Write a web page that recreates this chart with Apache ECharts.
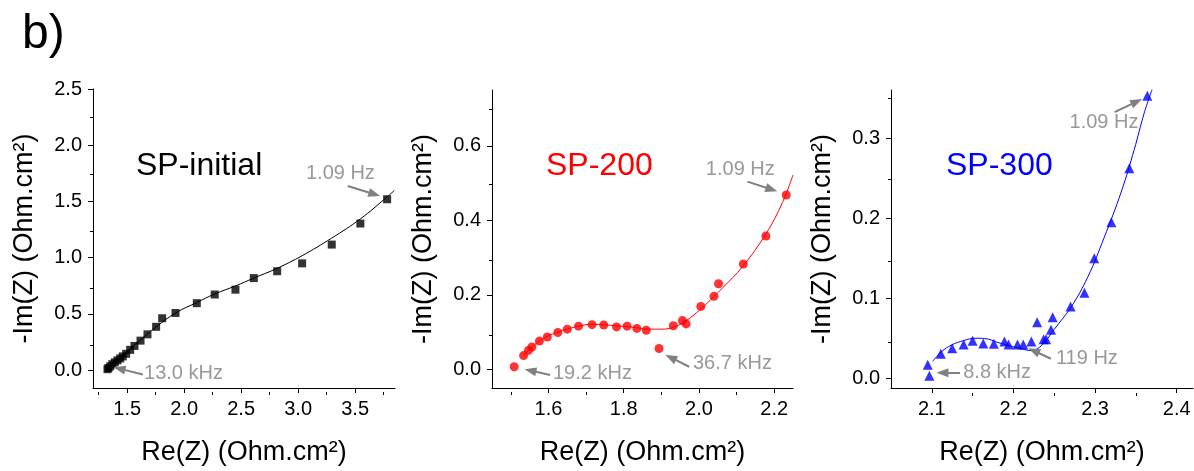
<!DOCTYPE html>
<html>
<head>
<meta charset="utf-8">
<script src="https://cdn.jsdelivr.net/npm/echarts@6/dist/echarts.min.js"></script>
<style>
html,body{margin:0;padding:0;background:#fff;}
#chart{width:1194px;height:471px;}
</style>
</head>
<body>
<div id="chart"></div>
<script>
// ---------- Panel 1: SP-initial ----------
const p1Re = [1.327,1.336,1.351,1.369,1.391,1.415,1.439,1.461,1.491,1.526,1.564,1.617,1.678,1.754,1.807,1.924,2.111,2.268,2.450,2.611,2.816,3.035,3.295,3.546,3.781];
const p1Im = [0.009,0.020,0.035,0.053,0.070,0.088,0.105,0.123,0.146,0.181,0.216,0.263,0.319,0.386,0.462,0.509,0.596,0.673,0.716,0.819,0.880,0.950,1.117,1.304,1.520];
const p1FitRe = [1.313,1.461,1.608,1.754,1.930,2.111,2.268,2.450,2.611,2.816,3.035,3.295,3.546,3.781,3.845];
const p1FitIm = [0.020,0.137,0.263,0.386,0.512,0.602,0.678,0.749,0.819,0.906,1.018,1.175,1.345,1.541,1.599];
const p1NoteText = ['1.09 Hz','13.0 kHz'];
const p1NoteX = [3.371,1.994];
const p1NoteY = [1.746,-0.031];
const p1Arrows = [[3.435,1.638,3.670,1.564],[1.637,-0.038,1.432,0.014]];

// ---------- Panel 2: SP-200 ----------
const p2Re = [1.509,1.534,1.547,1.556,1.576,1.597,1.625,1.650,1.680,1.716,1.747,1.781,1.809,1.835,1.860,1.894,1.932,1.956,1.966,2.005,2.040,2.052,2.118,2.178,2.232];
const p2Im = [0.007,0.037,0.051,0.060,0.076,0.087,0.099,0.108,0.116,0.120,0.119,0.114,0.116,0.110,0.105,0.056,0.117,0.131,0.122,0.169,0.196,0.230,0.283,0.358,0.468];
const p2FitRe = [1.534,1.578,1.622,1.680,1.716,1.781,1.834,1.860,1.904,1.932,1.957,1.984,2.019,2.063,2.116,2.178,2.222,2.250];
const p2FitIm = [0.038,0.078,0.099,0.116,0.121,0.117,0.112,0.108,0.108,0.113,0.125,0.144,0.175,0.219,0.276,0.364,0.448,0.522];
const p2NoteText = ['1.09 Hz','19.2 kHz','36.7 kHz'];
const p2NoteX = [2.110,1.717,2.089];
const p2NoteY = [0.536,-0.010,0.015];
const p2Arrows = [[2.129,0.504,2.193,0.483],[1.6045,-0.015,1.552,-0.003],[1.974,0.007,1.925,0.032]];

// ---------- Panel 3: SP-300 ----------
const p3Re = [2.095,2.097,2.111,2.125,2.139,2.150,2.163,2.176,2.189,2.194,2.205,2.212,2.222,2.229,2.237,2.240,2.246,2.248,2.270,2.287,2.299,2.320,2.342,2.364];
const p3Im = [0.0171,0.0032,0.0306,0.0375,0.0424,0.0469,0.0436,0.0432,0.0460,0.0424,0.0424,0.0424,0.0460,0.0701,0.0489,0.0489,0.0607,0.0763,0.0897,0.1069,0.1501,0.1950,0.2623,0.3529];
const p3FitRe = [2.101,2.112,2.124,2.139,2.153,2.165,2.181,2.198,2.214,2.222,2.230,2.238,2.250,2.271,2.291,2.311,2.332,2.348,2.360,2.370];
const p3FitIm = [0.0212,0.0334,0.0416,0.0472,0.0501,0.0497,0.0448,0.0399,0.0359,0.0346,0.0375,0.0448,0.0612,0.0897,0.1264,0.1754,0.2326,0.2856,0.3305,0.361];
const p3NoteText = ['1.09 Hz','119 Hz','8.8 kHz'];
const p3NoteX = [2.311,2.290,2.180];
const p3NoteY = [0.319,0.0248,0.0071];
const p3Arrows = [[2.324,0.3324,2.351,0.3455],[2.246,0.0245,2.225,0.0345],[2.1345,0.0069,2.113,0.0069]];

// ---------- Axes ticks ----------
const p1XMajor = [1.5,2.0,2.5,3.0,3.5];
const p1XMinor = [1.25,1.75,2.25,2.75,3.25,3.75];
const p1YMajor = [0.0,0.5,1.0,1.5,2.0,2.5];
const p1YMinor = [0.25,0.75,1.25,1.75,2.25];
const p2XMajor = [1.6,1.8,2.0,2.2];
const p2XMinor = [1.5,1.7,1.9,2.1];
const p2YMajor = [0.0,0.2,0.4,0.6];
const p2YMinor = [0.1,0.3,0.5,0.7];
const p3XMajor = [2.1,2.2,2.3,2.4];
const p3XMinor = [2.15,2.25,2.35];
const p3YMajor = [0.0,0.1,0.2,0.3];
const p3YMinor = [0.05,0.15,0.25,0.35];

const titles = ['SP-initial','SP-200','SP-300'];
const colors = ['#000000','#ff0000','#0000ff'];
const xTitle = 'Re(Z) (Ohm.cm²)';
const yTitle = '-Im(Z) (Ohm.cm²)';

const FONT = '"Liberation Sans", Arial, sans-serif';
const GRAY = '#808080';

const panels = [
  {re:p1Re, im:p1Im, fre:p1FitRe, fim:p1FitIm, nt:p1NoteText, nx:p1NoteX, ny:p1NoteY, ar:p1Arrows,
   xMin:1.2, xMax:3.85, yMin:-0.158, yMax:2.5, xMaj:p1XMajor, xMin2:p1XMinor, yMaj:p1YMajor, yMin2:p1YMinor,
   rect:{left:93, top:89, width:302, height:303}, symbol:'rect', size:8, titleLeft:136},
  {re:p2Re, im:p2Im, fre:p2FitRe, fim:p2FitIm, nt:p2NoteText, nx:p2NoteX, ny:p2NoteY, ar:p2Arrows,
   xMin:1.45, xMax:2.25, yMin:-0.05, yMax:0.75, xMaj:p2XMajor, xMin2:p2XMinor, yMaj:p2YMajor, yMin2:p2YMinor,
   rect:{left:492, top:90, width:301, height:302}, symbol:'circle', size:9, titleLeft:546},
  {re:p3Re, im:p3Im, fre:p3FitRe, fim:p3FitIm, nt:p3NoteText, nx:p3NoteX, ny:p3NoteY, ar:p3Arrows,
   xMin:2.05, xMax:2.42, yMin:-0.012, yMax:0.36, xMaj:p3XMajor, xMin2:p3XMinor, yMaj:p3YMajor, yMin2:p3YMinor,
   rect:{left:891, top:90, width:302, height:303}, symbol:'triangle', size:10, titleLeft:946}
];

const grid = [], xAxis = [], yAxis = [], series = [];
const title = [{text:'b)', left:22, top:11, padding:0, textStyle:{fontSize:48, fontWeight:'normal', color:'#000', fontFamily:FONT}}];

function mainAxis(gi, isX, min, max, majors, name) {
  return {
    type:'value', gridIndex:gi, min:min, max:max, position: isX ? 'bottom' : 'left',
    axisLine:{show:true, onZero:false, lineStyle:{color:'#000', width:1}},
    axisTick:{show:true, inside:false, length:5, customValues:majors, lineStyle:{color:'#000', width:1}},
    axisLabel:{show:true, customValues:majors, formatter:v=>Number(v).toFixed(1), fontSize:20, color:'#000', margin:11, fontFamily:FONT},
    splitLine:{show:false}, minorTick:{show:false},
    name:name, nameLocation:'middle', nameGap: isX ? 51 : 55,
    nameTextStyle:{fontSize:27, color:'#000', fontFamily:FONT}
  };
}
function minorAxis(gi, isX, min, max, minors) {
  return {
    type:'value', gridIndex:gi, min:min, max:max, position: isX ? 'bottom' : 'left',
    axisLine:{show:false, onZero:false},
    axisTick:{show:true, inside:false, length:3, customValues:minors, lineStyle:{color:'#000', width:1}},
    axisLabel:{show:false}, splitLine:{show:false}
  };
}

panels.forEach((p, i) => {
  grid[i] = Object.assign({containLabel:false}, p.rect);
  grid[i + 3] = Object.assign({containLabel:false}, p.rect);
  xAxis[i] = mainAxis(i, true, p.xMin, p.xMax, p.xMaj, xTitle);
  yAxis[i] = mainAxis(i, false, p.yMin, p.yMax, p.yMaj, yTitle);
  xAxis[i + 3] = minorAxis(i + 3, true, p.xMin, p.xMax, p.xMin2);
  yAxis[i + 3] = minorAxis(i + 3, false, p.yMin, p.yMax, p.yMin2);

  title.push({text:titles[i], left:p.titleLeft, top:150, padding:0,
    textStyle:{fontSize:32, fontWeight:'normal', color:colors[i], fontFamily:FONT}});

  series.push({
    type:'line', xAxisIndex:i, yAxisIndex:i, smooth:0.4, showSymbol:false, clip:true,
    data:p.fre.map((x, k) => [x, p.fim[k]]),
    lineStyle:{color:colors[i], width:1}, itemStyle:{color:colors[i]},
    markLine:{
      silent:true, symbol:['none','triangle'], symbolSize:[9,12],
      lineStyle:{color:GRAY, width:2, type:'solid'}, itemStyle:{color:GRAY},
      label:{show:false}, emphasis:{disabled:true},
      data:p.ar.map(a => [{coord:[a[0], a[1]]}, {coord:[a[2], a[3]]}])
    },
    z:2
  });
  series.push({
    type:'scatter', xAxisIndex:i, yAxisIndex:i, symbol:p.symbol, symbolSize:p.size,
    data:p.re.map((x, k) => [x, p.im[k]]),
    itemStyle:{color:colors[i]}, z:3
  });
  series.push({
    type:'scatter', xAxisIndex:i, yAxisIndex:i, symbolSize:1, clip:false,
    data:p.nt.map((t, k) => ({name:t, value:[p.nx[k], p.ny[k]]})),
    itemStyle:{color:'rgba(0,0,0,0)'},
    label:{show:true, position:'inside', formatter:q => q.name, color:GRAY, fontSize:20, fontFamily:FONT},
    z:4
  });
});

const chart = echarts.init(document.getElementById('chart'), null, {renderer:'canvas'});
chart.setOption({
  animation:false, backgroundColor:'#fff',
  textStyle:{fontFamily:FONT},
  title:title, grid:grid, xAxis:xAxis, yAxis:yAxis, series:series
});
</script>
</body>
</html>
